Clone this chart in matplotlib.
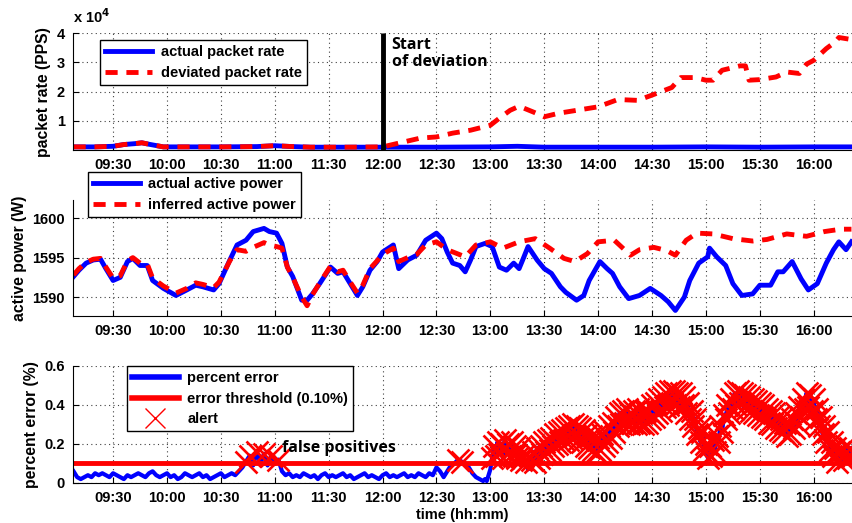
import numpy as np
import matplotlib
matplotlib.use('Agg')
import matplotlib.pyplot as plt
from matplotlib.lines import Line2D

plt.rcParams['font.family'] = ['Liberation Sans', 'DejaVu Sans']
plt.rcParams['font.weight'] = 'bold'

def mins(s):
    h, m = s.split(':')
    return int(h) * 60 + int(m)

tick_labels = ['09:30', '10:00', '10:30', '11:00', '11:30', '12:00', '12:30',
               '13:00', '13:30', '14:00', '14:30', '15:00', '15:30', '16:00']

# --- packet rate (PPS) ---
pkt_time = ['09:08', '09:20', '09:30', '09:36', '09:42', '09:46', '09:50', '09:58',
            '10:10', '10:30', '10:50', '11:00', '11:10', '11:20', '11:40', '12:00',
            '12:30', '13:00', '13:15', '13:30', '14:00', '14:30', '15:00', '15:30',
            '16:00', '16:21']
pkt_actual = [1100, 1100, 1300, 1900, 2200, 2500, 2000, 1100,
              1100, 1100, 1200, 1500, 1200, 1000, 1000, 1000,
              1000, 1100, 1300, 1000, 1000, 1000, 1100, 1000,
              1100, 1100]
dev_time = ['12:00', '12:21', '12:30', '12:39', '12:49', '13:00', '13:05', '13:11',
            '13:16', '13:24', '13:30', '13:38', '13:48', '14:00', '14:11', '14:22',
            '14:30', '14:41', '14:46', '14:54', '15:00', '15:04', '15:09', '15:19',
            '15:22', '15:24', '15:30', '15:39', '15:45', '15:52', '15:56', '16:00',
            '16:07', '16:12', '16:14', '16:21']
dev_rate = [1100, 4100, 4500, 5800, 6800, 8500, 10900, 13600,
            15000, 13000, 11400, 12600, 13600, 14800, 17300, 17000,
            18800, 21400, 24800, 24800, 23900, 23900, 27300, 28800,
            28800, 23900, 24100, 25000, 26700, 26200, 29400, 30700,
            34700, 37000, 38500, 37800]

# --- active power (W) ---
pow_time = ['09:08', '09:11', '09:15', '09:19', '09:23', '09:26', '09:30', '09:34',
            '09:38', '09:41', '09:45', '09:49', '09:52', '09:58', '10:05', '10:11',
            '10:16', '10:20', '10:26', '10:29', '10:35', '10:39', '10:44', '10:48',
            '10:54', '10:57', '11:01', '11:04', '11:07', '11:10', '11:15', '11:18',
            '11:21', '11:25', '11:31', '11:35', '11:38', '11:42', '11:46', '11:49',
            '11:53', '11:57', '12:00', '12:06', '12:09', '12:14', '12:19', '12:24',
            '12:30', '12:33', '12:36', '12:39', '12:43', '12:46', '12:49', '12:52',
            '12:57', '13:01', '13:05', '13:09', '13:13', '13:16', '13:18', '13:21',
            '13:26', '13:30', '13:34', '13:39', '13:42', '13:48', '13:52', '13:55',
            '14:01', '14:05', '14:08', '14:12', '14:17', '14:23', '14:29', '14:35',
            '14:39', '14:43', '14:48', '14:51', '14:56', '15:01', '15:02', '15:06',
            '15:11', '15:15', '15:20', '15:26', '15:30', '15:36', '15:40', '15:43',
            '15:48', '15:53', '15:57', '16:02', '16:07', '16:11', '16:14', '16:18',
            '16:21']
pow_actual = [1592.6, 1593.4, 1594.3, 1594.7, 1594.8, 1593.6, 1592.1, 1592.5,
              1594.5, 1594.9, 1594.0, 1594.0, 1592.1, 1591.1, 1590.2, 1590.9,
              1591.5, 1591.3, 1590.9, 1591.7, 1594.7, 1596.6, 1597.2, 1598.3,
              1598.7, 1598.3, 1598.1, 1596.8, 1593.8, 1592.6, 1589.6, 1589.6,
              1590.4, 1591.7, 1593.8, 1593.0, 1593.2, 1591.7, 1590.2, 1591.3,
              1593.4, 1594.5, 1595.7, 1596.6, 1593.6, 1594.7, 1595.3, 1597.2,
              1598.1, 1597.4, 1595.7, 1594.3, 1594.0, 1593.2, 1594.7, 1596.4,
              1596.8, 1596.4, 1593.8, 1593.4, 1594.3, 1593.6, 1594.7, 1596.4,
              1594.7, 1593.6, 1593.0, 1591.3, 1590.6, 1589.6, 1590.2, 1592.1,
              1594.5, 1593.6, 1593.0, 1591.3, 1589.8, 1590.2, 1591.1, 1590.2,
              1589.4, 1588.3, 1590.0, 1592.1, 1594.3, 1595.1, 1596.2, 1595.1,
              1594.0, 1591.7, 1590.2, 1590.4, 1591.5, 1591.5, 1593.2, 1593.2,
              1594.5, 1592.3, 1590.9, 1591.7, 1594.3, 1596.0, 1597.0, 1596.0,
              1597.0]
inf_time = ['09:08', '09:11', '09:15', '09:19', '09:23', '09:26', '09:30', '09:34',
            '09:38', '09:41', '09:45', '09:49', '09:52', '09:58', '10:05', '10:11',
            '10:16', '10:20', '10:26', '10:29', '10:35', '10:39', '10:44', '10:48',
            '10:54', '10:57', '11:01', '11:04', '11:07', '11:10', '11:15', '11:18',
            '11:21', '11:25', '11:31', '11:35', '11:38', '11:42', '11:46', '11:49',
            '11:53', '11:57', '12:00', '12:06', '12:09', '12:14', '12:19', '12:24',
            '12:30', '12:36', '12:46', '12:52', '13:00', '13:07', '13:16', '13:25',
            '13:33', '13:41', '13:47', '13:54', '14:00', '14:09', '14:18', '14:23',
            '14:31', '14:38', '14:43', '14:49', '14:55', '15:04', '15:15', '15:26',
            '15:34', '15:45', '15:56', '16:06', '16:15', '16:21']
pow_inferred = [1592.8, 1593.6, 1594.4, 1594.8, 1594.9, 1593.8, 1592.4, 1592.7,
                1594.6, 1595.0, 1594.3, 1594.2, 1592.4, 1591.4, 1590.5, 1591.1,
                1591.8, 1591.6, 1591.2, 1591.9, 1594.6, 1596.0, 1595.8, 1596.3,
                1596.9, 1596.6, 1596.4, 1596.2, 1593.8, 1592.5, 1590.0, 1588.9,
                1590.3, 1591.8, 1593.9, 1593.2, 1593.4, 1591.9, 1590.5, 1591.5,
                1593.6, 1594.6, 1595.4, 1596.2, 1594.5, 1595.0, 1595.4, 1596.6,
                1597.0, 1596.0, 1595.1, 1596.6, 1597.0, 1596.2, 1597.0, 1597.4,
                1596.2, 1594.9, 1594.5, 1595.5, 1597.0, 1597.2, 1595.3, 1596.0,
                1596.3, 1595.9, 1595.3, 1597.2, 1598.1, 1598.0, 1597.4, 1597.1,
                1597.3, 1598.0, 1597.7, 1598.3, 1598.6, 1598.6]

# --- percent error (%) ---
# one value every 2 min from 09:08 to 12:56
err_a_start = '09:08'
pct_err_a = [
    0.06, 0.03, 0.02, 0.03, 0.04, 0.03, 0.05, 0.04, 0.05, 0.04, 0.03, 0.05, 0.04, 0.03, 0.02,
    0.04, 0.03, 0.04, 0.05, 0.04, 0.03, 0.05, 0.06, 0.04, 0.03, 0.04, 0.05, 0.03, 0.04, 0.02,
    0.03, 0.05, 0.04, 0.03, 0.04, 0.05, 0.03, 0.04, 0.02, 0.03, 0.04, 0.05, 0.03, 0.04, 0.05,
    0.04, 0.06, 0.08, 0.11, 0.14, 0.09, 0.16, 0.10, 0.15, 0.09, 0.14, 0.10, 0.12, 0.06, 0.04,
    0.05, 0.03, 0.04, 0.03, 0.05, 0.04, 0.03, 0.04, 0.02, 0.04, 0.05, 0.03, 0.04, 0.03, 0.04,
    0.05, 0.03, 0.04, 0.02, 0.03, 0.04, 0.05, 0.03, 0.04, 0.03, 0.02, 0.04, 0.05, 0.03, 0.04,
    0.03, 0.04, 0.05, 0.03, 0.04, 0.03, 0.05, 0.04, 0.03, 0.05, 0.04, 0.08, 0.06, 0.03, 0.06,
    0.09, 0.10, 0.12, 0.11, 0.10, 0.08, 0.05, 0.03, 0.02, 0.01]
# one value every minute from 12:57 to 16:21
err_b_start = '12:57'
pct_err_b = [
    0.02, 0.01, 0.04, 0.07, 0.13, 0.19, 0.14, 0.21, 0.15, 0.20, 0.13, 0.22, 0.15, 0.20, 0.14,
    0.21, 0.14, 0.19, 0.13, 0.18, 0.12, 0.14, 0.09, 0.11, 0.07, 0.08, 0.12, 0.16, 0.11, 0.18,
    0.13, 0.19, 0.15, 0.21, 0.16, 0.22, 0.17, 0.23, 0.19, 0.25, 0.20, 0.26, 0.21, 0.27, 0.22,
    0.28, 0.22, 0.29, 0.23, 0.30, 0.24, 0.29, 0.22, 0.28, 0.21, 0.27, 0.19, 0.25, 0.18, 0.24,
    0.17, 0.24, 0.16, 0.23, 0.17, 0.25, 0.19, 0.26, 0.21, 0.29, 0.23, 0.31, 0.26, 0.34, 0.29,
    0.36, 0.30, 0.37, 0.31, 0.38, 0.30, 0.36, 0.31, 0.37, 0.30, 0.38, 0.31, 0.36, 0.30, 0.37,
    0.31, 0.37, 0.33, 0.40, 0.34, 0.41, 0.36, 0.43, 0.37, 0.44, 0.39, 0.46, 0.40, 0.47, 0.41,
    0.47, 0.40, 0.46, 0.39, 0.46, 0.40, 0.44, 0.36, 0.41, 0.33, 0.37, 0.29, 0.33, 0.25, 0.28,
    0.21, 0.26, 0.17, 0.20, 0.13, 0.19, 0.14, 0.22, 0.16, 0.24, 0.21, 0.29, 0.26, 0.35, 0.33,
    0.40, 0.36, 0.43, 0.38, 0.46, 0.40, 0.47, 0.41, 0.46, 0.39, 0.45, 0.38, 0.44, 0.37, 0.43,
    0.36, 0.42, 0.35, 0.41, 0.34, 0.40, 0.33, 0.38, 0.31, 0.37, 0.30, 0.36, 0.28, 0.34, 0.27,
    0.33, 0.26, 0.31, 0.24, 0.30, 0.25, 0.33, 0.28, 0.36, 0.30, 0.39, 0.34, 0.43, 0.38, 0.46,
    0.39, 0.45, 0.37, 0.43, 0.33, 0.38, 0.29, 0.34, 0.25, 0.29, 0.21, 0.26, 0.17, 0.21, 0.14,
    0.18, 0.11, 0.16, 0.10, 0.17, 0.12, 0.19, 0.13, 0.18, 0.14]
threshold = 0.10

BLUE = (0, 0, 1)
RED = (1, 0, 0)
xlim = (547.7, 981.2)
ticks = [mins(s) for s in tick_labels]
FS = 10.5
LEG = dict(loc='upper left', borderaxespad=0, fancybox=False, edgecolor='k',
           framealpha=1, handlelength=3.2, prop={'weight': 'bold', 'size': FS},
           borderpad=0.35, labelspacing=0.45, handletextpad=0.6)

fig = plt.figure(figsize=(8.53, 5.23), dpi=100)
ax1 = fig.add_axes([0.0856, 0.713, 0.913, 0.2237])
ax2 = fig.add_axes([0.0856, 0.3958, 0.913, 0.2218])
ax3 = fig.add_axes([0.0856, 0.0765, 0.913, 0.2237])

for ax in (ax1, ax2, ax3):
    ax.set_xlim(*xlim)
    ax.set_xticks(ticks)
    ax.set_xticklabels(tick_labels)
    ax.spines['top'].set_visible(False)
    ax.spines['right'].set_visible(False)
    ax.tick_params(direction='in', length=4, labelsize=FS, pad=6)
    ax.grid(True, linestyle=(0, (1, 3)), color='0.25', linewidth=0.8)
    ax.set_axisbelow(True)
    for lab in ax.get_xticklabels() + ax.get_yticklabels():
        lab.set_fontweight('bold')

# top panel
pt = [mins(s) for s in pkt_time]
dt = [mins(s) for s in dev_time]
pre = [i for i in range(len(pt)) if pt[i] < mins('12:00')]
dev_x = [pt[i] for i in pre] + dt
dev_y = [pkt_actual[i] for i in pre] + dev_rate
ax1.plot(pt, pkt_actual, color=BLUE, lw=3.5, label='actual packet rate')
ax1.plot(dev_x, dev_y, color=RED, lw=3.5, ls=(0, (2.5, 1.8)), label='deviated packet rate')
ax1.vlines(mins('12:00'), 0, 4e4, color='k', lw=3.5, zorder=5)
ax1.set_ylim(0, 4e4)
ax1.set_yticks([1e4, 2e4, 3e4, 4e4])
ax1.set_yticklabels(['1', '2', '3', '4'], fontweight='bold')
ax1.set_ylabel('packet rate (PPS)', fontsize=11.3, fontweight='bold')
ax1.text(0.0, 1.06, r'x 10$^{\mathbf{4}}$', transform=ax1.transAxes, fontsize=FS,
         fontweight='bold', va='bottom', ha='left')
ax1.text(mins('12:05'), 3.3e4, 'Start\nof deviation', fontsize=11.5, fontweight='bold',
         family=['Open Sans', 'DejaVu Sans'], va='center', ha='left', linespacing=1.15)
ax1.legend(bbox_to_anchor=(0.035, 0.94), **LEG)

# middle panel
ax2.plot([mins(s) for s in pow_time], pow_actual, color=BLUE, lw=3.5,
         label='actual active power')
ax2.plot([mins(s) for s in inf_time], pow_inferred, color=RED, lw=3.5,
         ls=(0, (2.5, 1.8)), label='inferred active power')
ax2.set_ylim(1587.6, 1602.3)
ax2.set_yticks([1590, 1595, 1600])
ax2.set_yticklabels(['1590', '1595', '1600'], fontweight='bold')
ax2.set_ylabel('active power (W)', fontsize=11.3, fontweight='bold')
leg2 = ax2.legend(bbox_to_anchor=(0.019, 1.24), **LEG)
leg2.set_zorder(10)

# bottom panel
et = np.concatenate([mins(err_a_start) + 2 * np.arange(len(pct_err_a)),
                     mins(err_b_start) + np.arange(len(pct_err_b))])
ev = np.array(pct_err_a + pct_err_b)
alert = ev > threshold
ax3.plot(et, ev, color=BLUE, lw=3, label='percent error')
ax3.axhline(threshold, color=RED, lw=3.5, label='error threshold (0.10%)')
ax3.plot(et[alert], ev[alert], 'x', color=RED, ms=16, mew=1.9, label='alert')
ax3.set_ylim(0, 0.6)
ax3.set_yticks([0, 0.2, 0.4, 0.6])
ax3.set_yticklabels(['0', '0.2', '0.4', '0.6'], fontweight='bold')
ax3.set_ylabel('percent error (%)', fontsize=11.3, fontweight='bold')
ax3.set_xlabel('time (hh:mm)', fontsize=FS, fontweight='bold', labelpad=2)
ax3.text(mins('11:04'), 0.18, 'false positives', fontsize=11.5, fontweight='bold',
         family=['Open Sans', 'DejaVu Sans'], va='center', ha='left')
handles = [Line2D([], [], color=BLUE, lw=4),
           Line2D([], [], color=RED, lw=4),
           Line2D([], [], color=RED, ls='none', marker='x', ms=14, mew=1)]
ax3.legend(handles, ['percent error', 'error threshold (0.10%)', 'alert'],
           bbox_to_anchor=(0.069, 1.0), **LEG)

fig.savefig('out.png', dpi=100)
